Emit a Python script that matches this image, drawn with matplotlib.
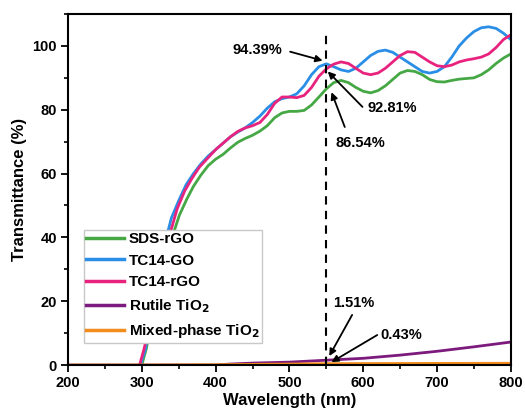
import numpy as np
import matplotlib
matplotlib.use('Agg')
import matplotlib.pyplot as plt
from matplotlib.ticker import MultipleLocator

plt.rcParams['font.family'] = ['Liberation Sans', 'DejaVu Sans']
plt.rcParams['font.weight'] = 'bold'
plt.rcParams['mathtext.default'] = 'bf'

#%% data

# SDS-rGO
wl_sds = [300, 306, 313, 321, 331, 341, 351, 361, 370, 380, 390, 400, 410, 420, 430, 440,
          450, 460, 470, 480, 490, 500, 510, 520, 530, 540, 550, 560, 570, 580, 590, 600,
          610, 620, 630, 640, 650, 660, 670, 680, 690, 700, 710, 720, 730, 740, 750, 760,
          770, 780, 790, 800]
t_sds = [0, 5, 13, 21, 31, 40, 47, 52, 56, 59.5, 62.5, 64.5, 66, 68, 69.8, 71,
         72, 73.3, 75, 77.5, 79, 79.5, 79.5, 79.8, 81.5, 84, 86.54, 88.5, 89.2, 88.5, 87, 85.8,
         85.3, 86, 87.5, 89.5, 91.5, 92.3, 92, 91, 89.5, 88.8, 88.7, 89.2, 89.6, 89.8, 90, 91,
         92.5, 94.5, 96.2, 97.5]

# TC14-GO
wl_go = [298, 305, 312, 320, 330, 340, 350, 360, 370, 380, 390, 400, 410, 420, 430, 440,
         450, 460, 470, 480, 490, 500, 510, 520, 530, 540, 550, 560, 570, 580, 590, 600,
         610, 620, 630, 640, 650, 660, 670, 680, 690, 700, 710, 720, 730, 740, 750, 760,
         770, 780, 790, 800]
t_go = [0, 5, 15, 25, 37, 46, 51.5, 56.5, 60, 63, 65.5, 67.5, 69.5, 71.5, 73, 74.3,
        76, 78, 80.5, 82.5, 83.5, 84, 85, 87.5, 91, 93.5, 94.39, 93.5, 92.5, 92, 93, 95,
        97, 98.3, 98.7, 98, 96.5, 95, 93.5, 92, 91.5, 92, 93.5, 96.5, 100, 102.5, 104.5, 105.7,
        106, 105.5, 104, 102]

# TC14-rGO
wl_rgo = [297, 303, 310, 318, 328, 338, 348, 358, 368, 378, 390, 400, 410, 420, 430, 440,
          450, 460, 470, 480, 490, 500, 510, 520, 530, 540, 550, 560, 570, 580, 590, 600,
          610, 620, 630, 640, 650, 660, 670, 680, 690, 700, 710, 720, 730, 740, 750, 760,
          770, 780, 790, 800]
t_rgo = [0, 5, 12, 20, 30, 41, 49, 54.5, 58.5, 62, 65, 67.5, 69.5, 71.5, 73.2, 74.3,
         75, 76, 78.5, 82, 84, 84, 83.8, 84.5, 87, 90.5, 92.81, 94.3, 95, 94.5, 93, 91.5,
         91, 91.5, 93, 95, 97, 98.2, 98, 96.5, 95, 93.8, 93.5, 94, 95, 95.6, 96, 96.5,
         97.5, 99.5, 102, 103.5]

# Rutile TiO2
wl_rut = [200, 300, 400, 420, 450, 500, 550, 600, 650, 700, 750, 800]
t_rut = [0, 0, 0, 0.3, 0.6, 0.9, 1.51, 2.1, 3.1, 4.3, 5.7, 7.2]

# Mixed-phase TiO2
wl_mix = [200, 300, 400, 500, 550, 650, 800]
t_mix = [0, 0, 0.1, 0.3, 0.43, 0.48, 0.55]

# annotation labels
ann_labels = ['94.39%', '92.81%', '86.54%', '1.51%', '0.43%']

#%% plot

fig = plt.figure(figsize=(5.25, 4.13), dpi=100)
ax = fig.add_axes([0.1295, 0.1162, 0.8435, 0.8498])

ax.plot(wl_sds, t_sds, color='#45a845', lw=2, label='SDS-rGO')
ax.plot(wl_go, t_go, color='#2a8ee6', lw=2, label='TC14-GO')
ax.plot(wl_rgo, t_rgo, color='#e8237e', lw=2, label='TC14-rGO')
ax.plot(wl_rut, t_rut, color='#7d1a7d', lw=2, label='Rutile TiO$_2$')
ax.plot(wl_mix, t_mix, color='#f28c1c', lw=2, label='Mixed-phase TiO$_2$')

ax.plot([550, 550], [0, 103.5], color='black', lw=1.5, ls=(0, (4, 3)))

# text labels and their arrows
txt = dict(fontsize=10.5, fontweight='bold', va='center')
ax.text(490, 98.7, ann_labels[0], ha='right', **txt)
ax.text(606, 80.6, ann_labels[1], ha='left', **txt)
ax.text(562, 69.6, ann_labels[2], ha='left', **txt)
ax.text(559, 19.4, ann_labels[3], ha='left', **txt)
ax.text(623, 9.4, ann_labels[4], ha='left', **txt)

arrow = dict(arrowstyle='-|>', color='black', lw=1.3, mutation_scale=10,
             shrinkA=0, shrinkB=0)
ax.annotate('', xy=(545, 95.4), xytext=(501, 98.2), arrowprops=arrow)
ax.annotate('', xy=(552, 92.0), xytext=(599, 80.9), arrowprops=arrow)
ax.annotate('', xy=(557, 85.5), xytext=(575, 74.6), arrowprops=arrow)
ax.annotate('', xy=(554, 2.8), xytext=(585, 15.7), arrowprops=arrow)
ax.annotate('', xy=(557, 0.9), xytext=(619, 9.4), arrowprops=arrow)

ax.set_xlim(200, 800)
ax.set_ylim(0, 110)
ax.xaxis.set_major_locator(MultipleLocator(100))
ax.xaxis.set_minor_locator(MultipleLocator(50))
ax.yaxis.set_major_locator(MultipleLocator(20))
ax.yaxis.set_minor_locator(MultipleLocator(10))
ax.tick_params(which='major', direction='out', length=5, width=1.3, labelsize=10.5, pad=3)
ax.tick_params(which='minor', direction='out', length=3, width=1.2)
for lab in ax.get_xticklabels() + ax.get_yticklabels():
    lab.set_fontweight('bold')
for sp in ax.spines.values():
    sp.set_linewidth(1.5)

ax.set_xlabel('Wavelength (nm)', fontsize=12, fontweight='bold', labelpad=2)
ax.set_ylabel('Transmittance (%)', fontsize=12, fontweight='bold', labelpad=4)

leg = ax.legend(loc='upper left', bbox_to_anchor=(0.036, 0.385), borderaxespad=0,
                fontsize=11, handlelength=2.5, handletextpad=0.3, labelspacing=0.5,
                fancybox=False, frameon=True, borderpad=0.15, framealpha=1)
leg.get_frame().set_edgecolor('#c8c8c8')
leg.get_frame().set_linewidth(1.0)
for line in leg.get_lines():
    line.set_linewidth(2.5)
for t in leg.get_texts():
    t.set_fontweight('bold')

plt.savefig('out.png', dpi=100)
